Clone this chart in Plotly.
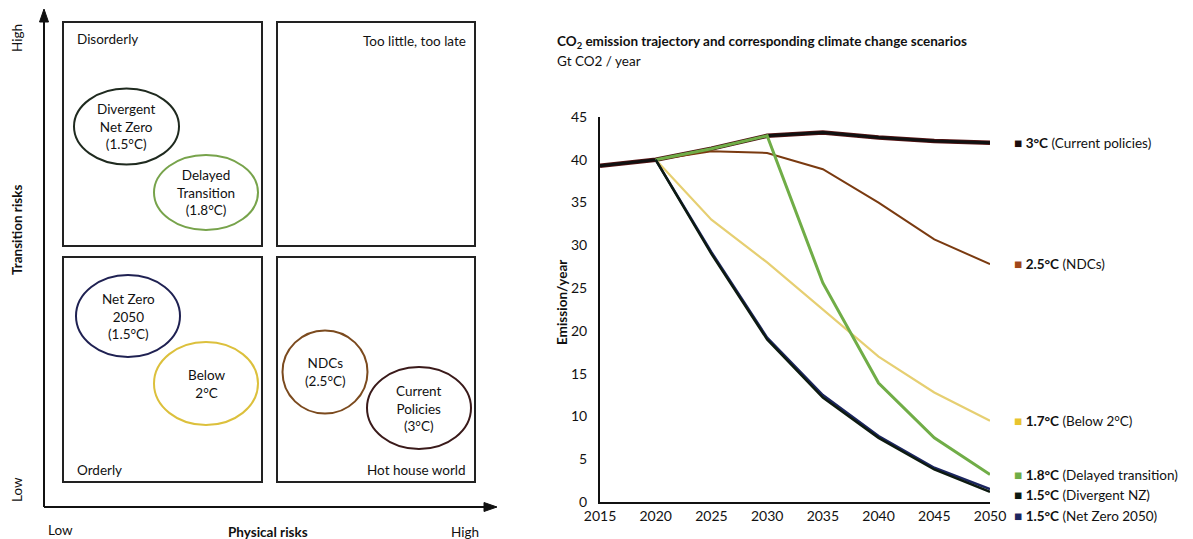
import plotly.graph_objects as go

# ---------------- data ----------------
years_cp = [2015, 2020, 2025, 2030, 2035, 2040, 2045, 2050]
current_policies = [39.3, 40.0, 41.3, 42.8, 43.2, 42.6, 42.2, 42.0]
years = [2020, 2025, 2030, 2035, 2040, 2045, 2050]
ndcs = [40.0, 41.0, 40.8, 38.9, 35.0, 30.7, 27.8]
below_2c = [40.0, 33.0, 28.0, 22.5, 17.0, 12.8, 9.5]
delayed = [40.0, 41.3, 42.8, 25.6, 13.9, 7.5, 3.2]
divergent_nz = [40.0, 29.0, 19.0, 12.2, 7.5, 3.8, 1.2]
net_zero = [40.0, 29.2, 19.2, 12.5, 7.7, 4.0, 1.5]

series_names = ["3°C (Current policies)", "2.5°C (NDCs)", "1.7°C (Below 2°C)",
                "1.8°C (Delayed transition)", "1.5°C (Divergent NZ)", "1.5°C (Net Zero 2050)"]
x_ticks = [2015, 2020, 2025, 2030, 2035, 2040, 2045, 2050]
y_ticks = [0, 5, 10, 15, 20, 25, 30, 35, 40, 45]

FONT = "Lato"
W, H = 1193, 539
TXT = "#111111"

fig = go.Figure()

# ---------------- right chart ----------------
fig.add_trace(go.Scatter(x=years_cp, y=current_policies, mode="lines",
                         line=dict(color="#5a1414", width=4.5), hoverinfo="skip", showlegend=False))
fig.add_trace(go.Scatter(x=years_cp, y=current_policies, mode="lines",
                         line=dict(color="#111111", width=3), name=series_names[0], showlegend=False))
fig.add_trace(go.Scatter(x=years, y=ndcs, mode="lines",
                         line=dict(color="#7a3a10", width=2), name=series_names[1], showlegend=False))
fig.add_trace(go.Scatter(x=years, y=below_2c, mode="lines",
                         line=dict(color="#e6cf72", width=2.2), name=series_names[2], showlegend=False))
fig.add_trace(go.Scatter(x=years, y=delayed, mode="lines",
                         line=dict(color="#70ad47", width=3), name=series_names[3], showlegend=False))
fig.add_trace(go.Scatter(x=years, y=net_zero, mode="lines",
                         line=dict(color="#1c2660", width=2.5), name=series_names[5], showlegend=False))
fig.add_trace(go.Scatter(x=years, y=divergent_nz, mode="lines",
                         line=dict(color="#0d1a10", width=2.5), name=series_names[4], showlegend=False))

# invisible trace for left diagram axes
fig.add_trace(go.Scatter(x=[], y=[], xaxis="x2", yaxis="y2", showlegend=False, hoverinfo="skip"))

fig.update_layout(
    template="none",
    width=W, height=H, autosize=False,
    margin=dict(l=0, r=0, t=0, b=0, pad=0, autoexpand=False),
    paper_bgcolor="white", plot_bgcolor="rgba(0,0,0,0)",
    font=dict(family=FONT, color=TXT),
    showlegend=False,
    xaxis=dict(domain=[600 / W, 990 / W], range=[2015, 2050], tickvals=x_ticks, automargin=False,
               showgrid=False, zeroline=False, showline=True, linecolor="#111111", linewidth=2,
               ticks="", tickfont=dict(size=14, family=FONT, color=TXT), fixedrange=True),
    yaxis=dict(domain=[1 - 502 / H, 1 - 117 / H], range=[0, 45], tickvals=y_ticks, automargin=False,
               showgrid=False, zeroline=False, showline=True, linecolor="#111111", linewidth=2,
               ticks="", ticklabelstandoff=8,
               tickfont=dict(size=14, family=FONT, color=TXT), fixedrange=True),
    xaxis2=dict(domain=[0, 1], range=[0, W], visible=False, anchor="y2", automargin=False,
                fixedrange=True),
    yaxis2=dict(domain=[0, 1], range=[H, 0], visible=False, anchor="x2", automargin=False,
                fixedrange=True),
)

ann = []
# titles
ann.append(dict(xref="paper", yref="paper", x=555 / W, y=1 - 42 / H, xanchor="left", yanchor="middle",
                text="<b>CO<sub>2</sub> emission trajectory and corresponding climate change scenarios</b>",
                showarrow=False, font=dict(size=13.5, family=FONT, color=TXT)))
ann.append(dict(xref="paper", yref="paper", x=555 / W, y=1 - 61 / H, xanchor="left", yanchor="middle",
                text="Gt CO2 / year", showarrow=False, font=dict(size=13.5, family=FONT, color=TXT)))
ann.append(dict(xref="paper", yref="paper", x=562 / W, y=1 - 303 / H, xanchor="center", yanchor="middle",
                text="<b>Emission/year</b>", textangle=-90, showarrow=False,
                font=dict(size=13.5, family=FONT, color=TXT)))

# legend labels at line ends
label_colors = ["#1c0c0c", "#a0461a", "#e8c42e", "#70ad47", "#0d1a10", "#1c2660"]
end_vals = [current_policies[-1], ndcs[-1], below_2c[-1], delayed[-1], delayed[-1], delayed[-1]]
shifts = [0, 0, 0, 0, -20, -41]
for name, col, v, s in zip(series_names, label_colors, end_vals, shifts):
    head, tail = name.split(" ", 1)
    ann.append(dict(xref="x", yref="y", x=2050, y=v, xshift=22, yshift=s, xanchor="left",
                    yanchor="middle", showarrow=False,
                    text=f"<span style='color:{col}'>■</span> <b>{head}</b> {tail}",
                    font=dict(size=13.5, family=FONT, color=TXT)))

# ---------------- left diagram ----------------
shapes = []
boxes = [(63, 22, 262, 246), (277, 22, 475, 246), (63, 257, 262, 482), (277, 257, 475, 482)]
for x0, y0, x1, y1 in boxes:
    shapes.append(dict(type="rect", xref="x2", yref="y2", x0=x0, y0=y0, x1=x1, y1=y1,
                       line=dict(color="#222222", width=2), fillcolor="rgba(0,0,0,0)"))

ellipses = [
    (126.5, 126.5, 52.5, 38, "#1f2a1f", "Divergent<br>Net Zero<br>(1.5°C)"),
    (206, 192.5, 52, 37.5, "#77a34b", "Delayed<br>Transition<br>(1.8°C)"),
    (128, 316, 52, 41, "#1f2152", "Net Zero<br>2050<br>(1.5°C)"),
    (206, 383.5, 52, 41.5, "#dcc03c", "Below<br>2°C"),
    (325, 372, 42.5, 41.5, "#7b4a1e", "NDCs<br>(2.5°C)"),
    (419, 408, 52, 41, "#3a1a1a", "Current<br>Policies<br>(3°C)"),
]
for cx, cy, rx, ry, col, txt in ellipses:
    shapes.append(dict(type="circle", xref="x2", yref="y2", x0=cx - rx, x1=cx + rx,
                       y0=cy - ry, y1=cy + ry, line=dict(color=col, width=2),
                       fillcolor="rgba(0,0,0,0)"))
    ann.append(dict(xref="x2", yref="y2", x=cx, y=cy, text=txt, showarrow=False,
                    xanchor="center", yanchor="middle",
                    font=dict(size=13.5, family=FONT, color=TXT)))

# axes with arrowheads
shapes.append(dict(type="line", xref="x2", yref="y2", x0=44, y0=507, x1=44, y1=20,
                   line=dict(color="#111111", width=2)))
shapes.append(dict(type="line", xref="x2", yref="y2", x0=44, y0=507, x1=486, y1=507,
                   line=dict(color="#111111", width=2)))
shapes.append(dict(type="path", xref="x2", yref="y2", path="M 39.5 22 L 44 9 L 48.5 22 Z",
                   fillcolor="#111111", line=dict(color="#111111", width=1)))
shapes.append(dict(type="path", xref="x2", yref="y2", path="M 484 502.5 L 497 507 L 484 511.5 Z",
                   fillcolor="#111111", line=dict(color="#111111", width=1)))

quad_labels = [
    (75, 39, "left", "Disorderly"),
    (468, 41, "right", "Too little, too late"),
    (75, 470, "left", "Orderly"),
    (468, 470, "right", "Hot house world"),
]
for x, y, anc, txt in quad_labels:
    ann.append(dict(xref="x2", yref="y2", x=x, y=y, xanchor=anc, yanchor="middle", text=txt,
                    showarrow=False, font=dict(size=13.5, family=FONT, color=TXT)))

axis_labels = [
    (17, 38, -90, "High"),
    (17, 230, -90, "<b>Transition risks</b>"),
    (17, 490, -90, "Low"),
    (60, 530, 0, "Low"),
    (268, 532, 0, "<b>Physical risks</b>"),
    (465, 532, 0, "High"),
]
for x, y, ang, txt in axis_labels:
    ann.append(dict(xref="x2", yref="y2", x=x, y=y, xanchor="center", yanchor="middle", text=txt,
                    textangle=ang, showarrow=False, font=dict(size=13.5, family=FONT, color=TXT)))

fig.update_layout(shapes=shapes, annotations=ann)
fig.write_html("out.html", config={"displayModeBar": False, "staticPlot": True},
               post_script="document.body.style.margin='0';document.body.style.overflow='hidden';")
